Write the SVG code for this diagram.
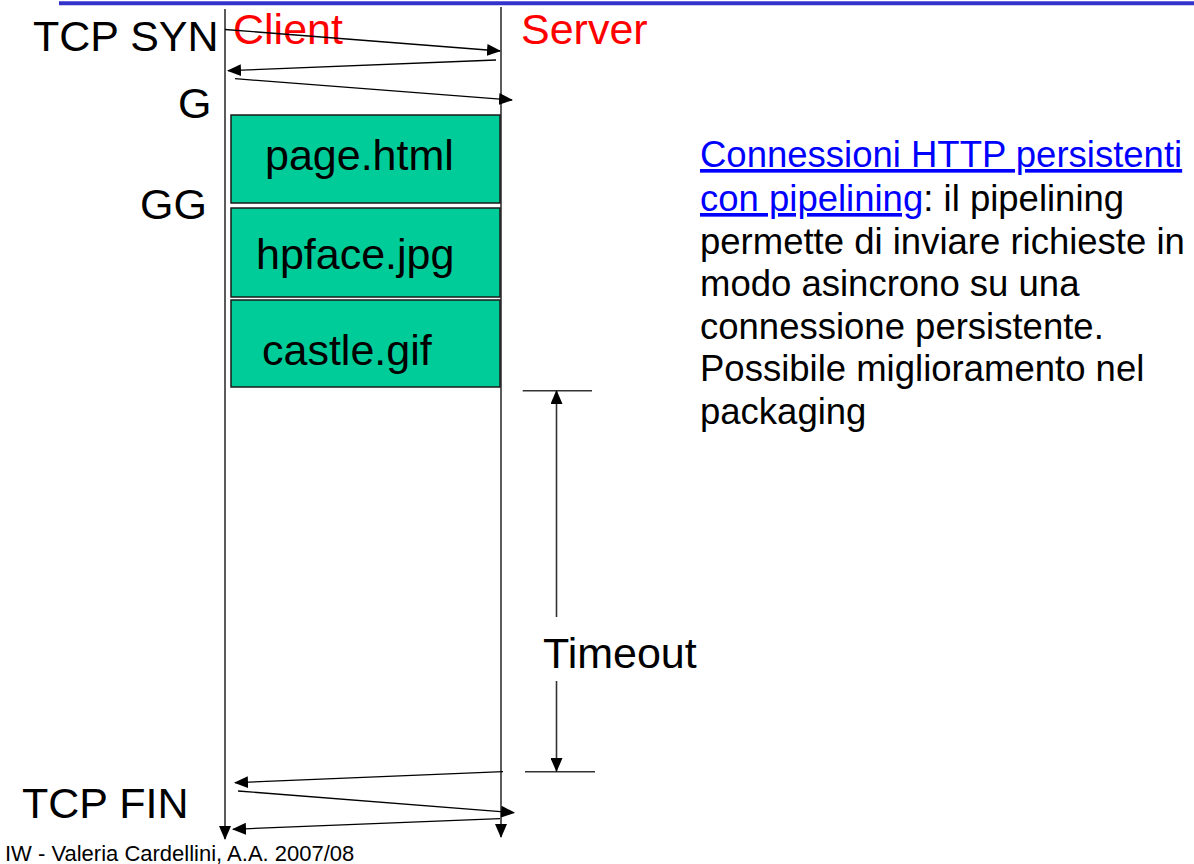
<svg xmlns="http://www.w3.org/2000/svg" width="1194" height="864" viewBox="0 0 1194 864">
<defs>
<style>
text{font-family:"Liberation Sans",Arial,sans-serif;}
.lbl{font-size:43px;fill:#000;}
.red{font-size:43px;fill:#ff0000;}
.box{fill:#00cc99;stroke:#1a1a1a;stroke-width:1.5;}
.ln{stroke:#000;stroke-width:1.3;fill:none;}
.axis{stroke:#333;stroke-width:1.6;fill:none;}
.body{font-size:36.5px;fill:#000;}
.link{fill:#0000ff;text-decoration:underline;}
</style>
<marker id="ah" markerUnits="userSpaceOnUse" markerWidth="14" markerHeight="12" viewBox="0 0 14 12" refX="13" refY="6" orient="auto">
<path d="M0,0 L14,6 L0,12 Z" fill="#000"/>
</marker>
</defs>
<rect x="0" y="0" width="1194" height="864" fill="#fff"/>
<line x1="59" y1="3.3" x2="1194" y2="3.3" stroke="#3333cc" stroke-width="4"/>

<g id="client-lifeline">
<line class="axis" x1="225" y1="9" x2="225" y2="839" marker-end="url(#ah)"/>
<text class="red" x="233" y="44">Client</text>
</g>
<g id="server-lifeline">
<line class="axis" x1="501" y1="7" x2="501" y2="837" marker-end="url(#ah)"/>
<text class="red" x="521" y="44">Server</text>
</g>

<g id="labels">
<text class="lbl" x="33" y="51">TCP SYN</text>
<text class="lbl" x="178" y="118">G</text>
<text class="lbl" x="140" y="219">GG</text>
<text class="lbl" x="22" y="818">TCP FIN</text>
</g>

<g id="box-page">
<rect class="box" x="231" y="115" width="269" height="88"/>
<text class="lbl" x="265" y="170">page.html</text>
</g>
<g id="box-hpface">
<rect class="box" x="231" y="208" width="269" height="89"/>
<text class="lbl" x="256" y="269">hpface.jpg</text>
</g>
<g id="box-castle">
<rect class="box" x="231" y="300" width="269" height="87"/>
<text class="lbl" x="262" y="365">castle.gif</text>
</g>

<g id="connectors">
<line class="ln" x1="225" y1="29.5" x2="500" y2="51" marker-end="url(#ah)"/>
<line class="ln" x1="496" y1="60" x2="228" y2="70.7" marker-end="url(#ah)"/>
<line class="ln" x1="235" y1="78.7" x2="512" y2="100" marker-end="url(#ah)"/>
<line class="ln" x1="503" y1="771.7" x2="235" y2="782.7" marker-end="url(#ah)"/>
<line class="ln" x1="238" y1="791" x2="514" y2="812.7" marker-end="url(#ah)"/>
<line class="ln" x1="500" y1="818.7" x2="233" y2="829.3" marker-end="url(#ah)"/>
</g>

<g id="timeout">
<line class="axis" x1="522.7" y1="390.7" x2="592" y2="390.7"/>
<line class="axis" x1="525" y1="771.7" x2="595" y2="771.7"/>
<line class="axis" x1="556.5" y1="617" x2="556.5" y2="391" marker-end="url(#ah)"/>
<line class="axis" x1="556.5" y1="681" x2="556.5" y2="771" marker-end="url(#ah)"/>
<text class="lbl" x="543" y="668">Timeout</text>
</g>

<g id="description">
<text class="body" x="700" y="167"><tspan class="link">Connessioni HTTP persistenti</tspan></text>
<text class="body" x="700" y="211"><tspan class="link">con pipelining</tspan>: il pipelining</text>
<text class="body" x="700" y="253.5">permette di inviare richieste in</text>
<text class="body" x="700" y="296">modo asincrono su una</text>
<text class="body" x="700" y="338.5">connessione persistente.</text>
<text class="body" x="700" y="381">Possibile miglioramento nel</text>
<text class="body" x="700" y="423.5">packaging</text>
</g>

<g id="footer">
<text x="5" y="861" font-size="22" fill="#000">IW - Valeria Cardellini, A.A. 2007/08</text>
</g>
</svg>
